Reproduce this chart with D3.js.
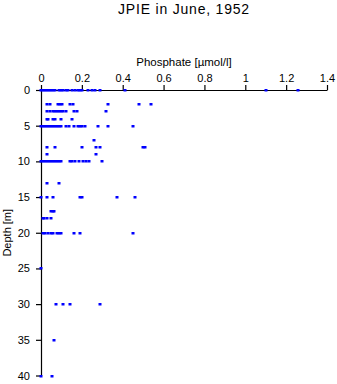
<!DOCTYPE html>
<html>
<head>
<meta charset="utf-8">
<script src="https://cdn.jsdelivr.net/npm/d3@7"></script>
<style>
  html, body { margin: 0; padding: 0; background: #fff; }
  svg { display: block; font-family: "Liberation Sans", Arial, Helvetica, sans-serif; }
</style>
</head>
<body>
<script>
// Sampling depths (m)
const depths = [0, 2, 3, 4, 5, 7, 8, 9, 10, 13, 15, 17, 18, 20, 25, 30, 35, 40];
// Phosphate values (µmol/l) observed at each depth
const phosphate = [
  [0, 0.01, 0.02, 0.03, 0.04, 0.05, 0.06, 0.07, 0.09, 0.1, 0.11, 0.12, 0.13, 0.15, 0.165, 0.18, 0.19, 0.2, 0.23, 0.25, 0.265, 0.29, 0.41, 1.1, 1.26],
  [0.03, 0.045, 0.085, 0.095, 0.105, 0.14, 0.155, 0.33, 0.48, 0.54],
  [0.03, 0.045, 0.06, 0.07, 0.08, 0.09, 0.1, 0.11, 0.12, 0.16, 0.175, 0.32],
  [0.03, 0.035, 0.06, 0.07, 0.1, 0.15],
  [0, 0.01, 0.02, 0.03, 0.04, 0.05, 0.06, 0.07, 0.08, 0.09, 0.1, 0.12, 0.135, 0.16, 0.18, 0.19, 0.2, 0.215, 0.28, 0.33, 0.45],
  [0.26],
  [0.03, 0.07, 0.2, 0.27, 0.29, 0.5, 0.51],
  [0.03, 0.27],
  [0, 0.01, 0.02, 0.03, 0.04, 0.05, 0.06, 0.07, 0.08, 0.09, 0.1, 0.14, 0.15, 0.165, 0.185, 0.205, 0.22, 0.235, 0.3],
  [0.03, 0.09],
  [0, 0.03, 0.06, 0.19, 0.2, 0.37, 0.46],
  [0.05, 0.06, 0.065],
  [0.01, 0.015, 0.03, 0.05],
  [0.01, 0.02, 0.035, 0.05, 0.06, 0.08, 0.09, 0.1, 0.16, 0.19, 0.45],
  [0],
  [0.072, 0.11, 0.14, 0.29],
  [0.062],
  [0, 0.052]
];
const xTicks = [0, 0.2, 0.4, 0.6, 0.8, 1, 1.2, 1.4];
const yTicks = [0, 5, 10, 15, 20, 25, 30, 35, 40];

const W = 337, H = 384;
const svg = d3.select("body").append("svg").attr("width", W).attr("height", H);

const x = d3.scaleLinear().domain([0, 1.4]).range([41, 327]);
const y = d3.scaleLinear().domain([0, 40]).range([90, 375.5]);

// Title
svg.append("text").attr("x", 184).attr("y", 14).attr("text-anchor", "middle")
  .attr("font-size", 14).attr("letter-spacing", 0.8).attr("fill", "#000")
  .text("JPIE in June, 1952");

// X axis (top)
const xAxis = svg.append("g").attr("transform", `translate(0,${y(0)})`)
  .call(d3.axisTop(x).tickValues(xTicks).tickFormat(d => d3.format("")(+d.toFixed(1))).tickSize(5).tickSizeOuter(0).tickPadding(3));
xAxis.select(".domain").attr("stroke", "#000").attr("stroke-width", 1.2);
xAxis.selectAll(".tick line").attr("stroke", "#000").attr("stroke-width", 1.2);
xAxis.selectAll("text").attr("font-size", 11).attr("fill", "#000").attr("font-family", "Liberation Sans, Arial, sans-serif");

svg.append("text").attr("x", 184).attr("y", 66).attr("text-anchor", "middle")
  .attr("font-size", 11.5).attr("fill", "#000").text("Phosphate [µmol/l]");

// Y axis (left)
const yAxis = svg.append("g").attr("transform", `translate(${x(0)},0)`)
  .call(d3.axisLeft(y).tickValues(yTicks).tickSize(5).tickSizeOuter(0).tickPadding(6));
yAxis.select(".domain").attr("stroke", "#000").attr("stroke-width", 1.2);
yAxis.selectAll(".tick line").attr("stroke", "#000").attr("stroke-width", 1.2);
yAxis.selectAll("text").attr("font-size", 11).attr("fill", "#000").attr("font-family", "Liberation Sans, Arial, sans-serif");

svg.append("text").attr("transform", `translate(11,${(y(0) + y(40)) / 2}) rotate(-90)`)
  .attr("text-anchor", "middle").attr("font-size", 11).attr("fill", "#000").text("Depth [m]");

// Points
const pts = [];
depths.forEach((d, i) => phosphate[i].forEach(v => pts.push({ depth: d, value: v })));
svg.append("g").selectAll("rect").data(pts).join("rect")
  .attr("x", d => Math.round(x(d.value)) - 1.5)
  .attr("y", d => Math.round(y(d.depth)) - 1)
  .attr("width", 3).attr("height", 2.5)
  .attr("fill", "#0000ff");
</script>
</body>
</html>
